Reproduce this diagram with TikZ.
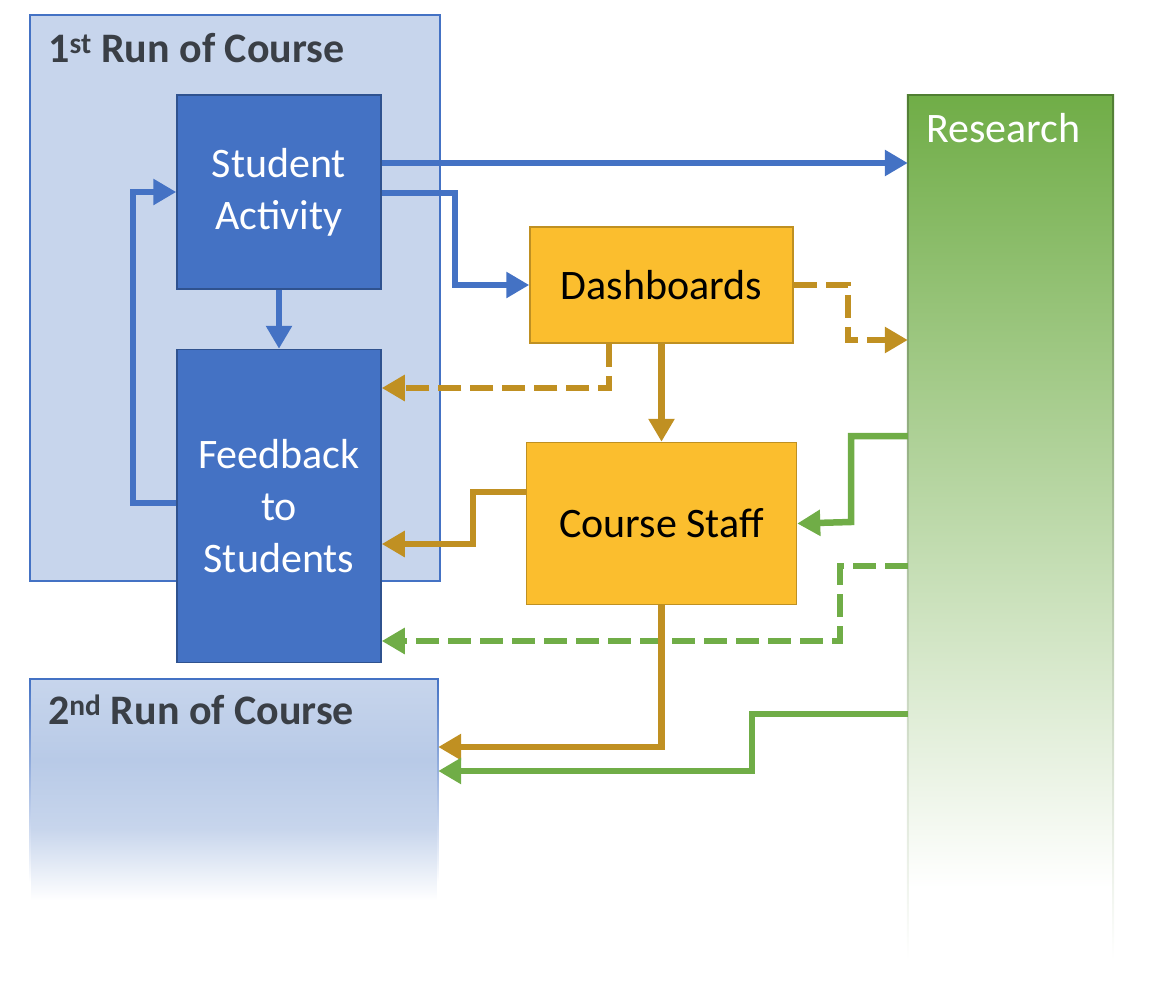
\documentclass[tikz,border=0pt]{standalone}
\usepackage{fontspec}
\setmainfont{Carlito}
\usetikzlibrary{arrows.meta,positioning}

\definecolor{boxblue}{HTML}{4472C4}
\definecolor{boxblueline}{HTML}{2F528F}
\definecolor{runfill}{HTML}{C7D5EC}
\definecolor{runmid}{HTML}{B8CAE7}
\definecolor{gold}{HTML}{FBBE2E}
\definecolor{goldline}{HTML}{BF9022}
\definecolor{arrowgold}{HTML}{C09022}
\definecolor{researchgreen}{HTML}{70AD47}
\definecolor{researchline}{HTML}{507E32}
\definecolor{titlegray}{HTML}{3A3F46}

% fades towards the bottom of the page
\pgfdeclareverticalshading{researchfade}{100bp}{color(0bp)=(white); color(31bp)=(white); color(75bp)=(researchgreen); color(100bp)=(researchgreen)}
\pgfdeclareverticalshading{researchedge}{100bp}{color(0bp)=(white); color(27bp)=(white); color(75bp)=(researchline); color(100bp)=(researchline)}
\pgfdeclareverticalshading{run2fade}{100bp}{color(0bp)=(white); color(26bp)=(white); color(42bp)=(runfill); color(57bp)=(runmid); color(75bp)=(runfill); color(100bp)=(runfill)}
\pgfdeclareverticalshading{run2edge}{100bp}{color(0bp)=(white); color(30bp)=(white); color(75bp)=(boxblue); color(100bp)=(boxblue)}

\begin{document}
\begin{tikzpicture}[
  x=1pt,
  y=-1pt,
  big/.style = {font=\fontsize{42}{52}\selectfont},
  bluebox/.style = {
    draw=boxblueline,
    line width=1.5pt,
    fill=boxblue,
    text=white,
    minimum width=204pt,
    align=center,
    big
  },
  goldbox/.style = {
    draw=goldline,
    line width=1.5pt,
    fill=gold,
    align=center,
    big
  },
  heading/.style = {
    anchor=base west,
    inner sep=0pt,
    text=titlegray,
    font=\fontsize{42}{52}\selectfont\bfseries
  },
  arrow/.style = {line width=6.5pt, -{Triangle[length=23pt,width=25pt]}},
  bluearrow/.style = {arrow, draw=boxblue},
  goldarrow/.style = {arrow, draw=arrowgold},
  greenarrow/.style = {arrow, draw=researchgreen},
  dashline/.style = {dash pattern=on 23pt off 9pt},
]
  \useasboundingbox (0,0) rectangle (1162,996);

  % first run
  \node (run1)[
    draw=boxblue,
    line width=1.5pt,
    fill=runfill,
    minimum width=410pt,
    minimum height=566pt
  ] at (235,298) {};
  \node (run1title)[heading] at ([xshift=19pt,yshift=-48pt]run1.north west)
    {1\textsuperscript{st} Run of Course};

  \node (activity)[
    bluebox,
    minimum height=194pt
  ] at (279,192) {Student\\Activity};
  \node (feedback)[
    below=59pt of activity,
    bluebox,
    minimum height=313pt
  ] {Feedback\\to\\Students};

  % second run
  \node (run2)[
    shade,
    shading=run2fade,
    inner sep=0pt,
    minimum width=408pt,
    minimum height=226pt
  ] at (234,792) {};
  \draw[boxblue, line width=1.5pt] (run2.north west) -- (run2.north east);
  \shade[shading=run2edge] ([xshift=-0.75pt]run2.north west) rectangle ([xshift=0.75pt]run2.south west);
  \shade[shading=run2edge] ([xshift=-0.75pt]run2.north east) rectangle ([xshift=0.75pt]run2.south east);
  \node (run2title)[heading] at ([xshift=18pt,yshift=-46pt]run2.north west)
    {2\textsuperscript{nd} Run of Course};

  \node (dashboards)[
    goldbox,
    minimum width=263pt,
    minimum height=116pt
  ] at (661.5,285) {Dashboards};
  \node (staff)[
    below=98pt of dashboards,
    goldbox,
    minimum width=270pt,
    minimum height=162pt
  ] {Course Staff};

  % research column
  \node (research)[
    shade,
    shading=researchfade,
    inner sep=0pt,
    minimum width=205pt,
    minimum height=901pt
  ] at (1010.5,545.5) {};
  \draw[researchline, line width=2pt] (research.north west) -- (research.north east);
  \shade[shading=researchedge] ([xshift=-1pt]research.north west) rectangle ([xshift=1pt]research.south west);
  \shade[shading=researchedge] ([xshift=-1pt]research.north east) rectangle ([xshift=1pt]research.south east);
  \node (researchtitle)[
    heading,
    text=white,
    font=\fontsize{42}{52}\selectfont
  ] at ([xshift=18pt,yshift=-48pt]research.north west) {Research};

  \draw[bluearrow] (activity.east |- 0,163) -- (research.west |- 0,163);
  \draw[bluearrow] (activity.east |- 0,193) -| (455,285) -- (dashboards.west);
  \draw[bluearrow] (activity.south) -- (feedback.north);
  \draw[bluearrow] (feedback.west |- 0,503) -| (133,192) -- (activity.west);

  \draw[goldarrow, dashline] (dashboards.east) -| (848,340) -- (research.west |- 0,340);
  \draw[goldarrow, dashline] (609,0 |- dashboards.south) |- (feedback.east |- 0,388);
  \draw[goldarrow] (dashboards.south) -- (staff.north);
  \draw[goldarrow] (staff.west |- 0,492) -| (473,544) -- (feedback.east |- 0,544);

  \draw[greenarrow] (research.west |- 0,436) -| (851,522) -- (staff.east);
  \draw[greenarrow, dashline] (research.west |- 0,566) -| (840,641) -- (feedback.east |- 0,641);
  \draw[goldarrow] (staff.south) |- (run2.east |- 0,747);
  \draw[greenarrow] (research.west |- 0,714) -| (752,771) -- (run2.east |- 0,771);
\end{tikzpicture}
\end{document}
